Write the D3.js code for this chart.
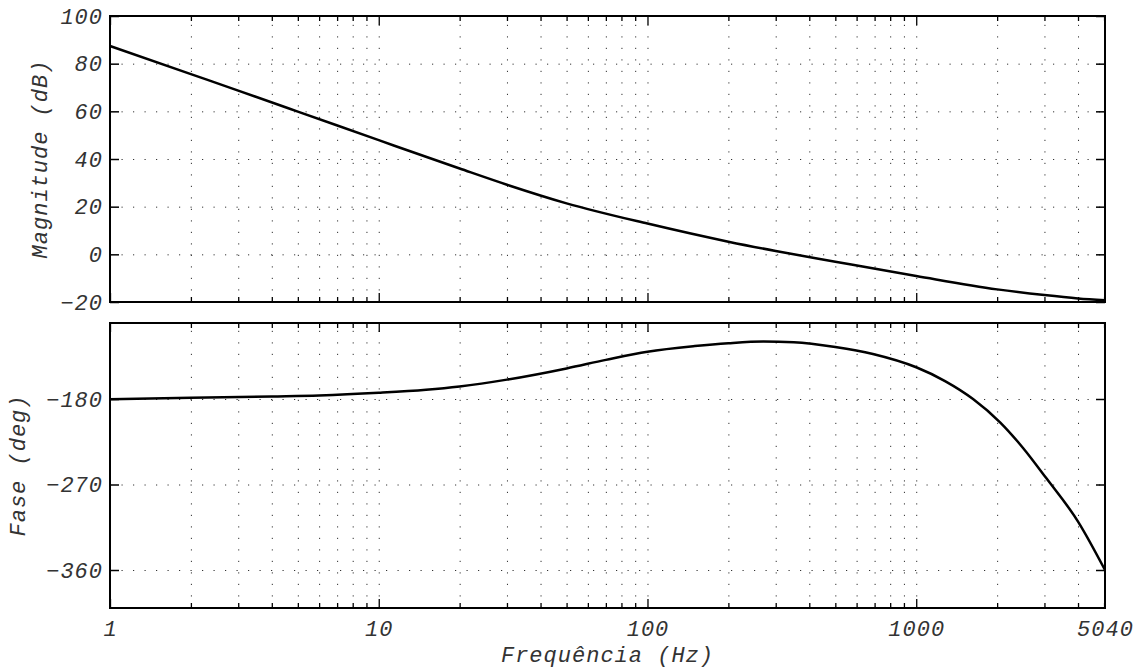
<!DOCTYPE html>
<html>
<head>
<meta charset="utf-8">
<script src="https://cdn.jsdelivr.net/npm/d3@7"></script>
<style>
  html, body { margin: 0; padding: 0; background: #fff; }
  svg text { font-family: "Liberation Mono", "DejaVu Sans Mono", monospace; font-style: italic; fill: #333; }
</style>
</head>
<body>
<div id="container"></div>
<script>
// values (freq in Hz)
const magFreq = [1, 2, 3, 5, 10, 20, 30, 50, 100, 200, 300, 500, 1000, 2000, 3000, 4000, 5040];
const magDb = [87.4, 75.6, 68.7, 59.9, 47.9, 36.0, 29.2, 21.4, 12.9, 5.3, 1.4, -3.1, -9.1, -14.7, -17.1, -18.5, -19.3];

const phFreq = [1, 2, 4, 6, 10, 15, 20, 30, 50, 70, 100, 150, 200, 270, 350, 500, 690, 1000, 1280, 1627, 2051, 2497, 3041, 4000, 5040];
const phDeg = [-180.3, -178.8, -177.3, -176.3, -173.5, -170.3, -166.8, -159.6, -147.8, -138.8, -130.2, -124.3, -121.3, -119.5, -120.2, -125.2, -132.6, -146.6, -161.1, -180, -204.5, -231.5, -263, -309, -360];

const xLabels = [1, 10, 100, 1000, 5040];
const magTicks = [-20, 0, 20, 40, 60, 80, 100];
const phTicks = [-360, -270, -180];

const W = 1145, H = 668;
const left = 110, right = 1105;
const top1 = 16, bot1 = 302, top2 = 323, bot2 = 608;

const svg = d3.select('#container').append('svg')
    .attr('width', W).attr('height', H);

const x = d3.scaleLog().domain([1, 5040]).range([left, right]);
const fmt = d3.format('d');   // uses the real minus sign

// decade and minor positions for grid / ticks
const majors = [1, 10, 100, 1000];
let minors = [];
majors.forEach(d => {
    for (let k = 2; k <= 9; k++) if (d * k <= 5040) minors.push(d * k);
});

function panel(y0, y1, yScale, yTicks, freq, vals) {
    const g = svg.append('g');
    const h = y1 - y0;

    // dotted grid
    g.append('g')
        .attr('transform', `translate(0,${y1})`)
        .call(d3.axisBottom(x).tickValues(majors.concat(minors)).tickSize(-h).tickFormat(''))
        .call(a => a.select('.domain').remove())
        .selectAll('line').attr('stroke', '#333').attr('stroke-dasharray', '1.2,10.3');
    g.append('g')
        .attr('transform', `translate(${left},0)`)
        .call(d3.axisLeft(yScale).tickValues(yTicks).tickSize(-(right - left)).tickFormat(''))
        .call(a => a.select('.domain').remove())
        .selectAll('line').attr('stroke', '#333').attr('stroke-dasharray', '1.2,10.3');

    // inward ticks, bottom and top
    [[y1, d3.axisBottom], [y0, d3.axisTop]].forEach(([yy, ax]) => {
        g.append('g').attr('transform', `translate(0,${yy})`)
            .call(ax(x).tickValues(minors).tickSize(-5).tickFormat(''))
            .call(a => a.select('.domain').remove())
            .selectAll('line').attr('stroke', '#000').attr('stroke-width', 1.3);
        g.append('g').attr('transform', `translate(0,${yy})`)
            .call(ax(x).tickValues(majors).tickSize(-9).tickFormat(''))
            .call(a => a.select('.domain').remove())
            .selectAll('line').attr('stroke', '#000').attr('stroke-width', 1.3);
    });

    // left axis with labels, right ticks
    g.append('g').attr('transform', `translate(${left},0)`)
        .call(d3.axisLeft(yScale).tickValues(yTicks).tickSize(-9).tickPadding(7).tickFormat(fmt))
        .call(a => a.select('.domain').remove())
        .call(a => a.selectAll('line').attr('stroke', '#000').attr('stroke-width', 1.5))
        .call(a => a.selectAll('text').attr('font-size', 22).attr('letter-spacing', 1)
            .attr('font-family', null).attr('fill', '#333'));
    g.append('g').attr('transform', `translate(${right},0)`)
        .call(d3.axisRight(yScale).tickValues(yTicks).tickSize(-9).tickFormat(''))
        .call(a => a.select('.domain').remove())
        .selectAll('line').attr('stroke', '#000').attr('stroke-width', 1.5);

    // frame
    g.append('rect')
        .attr('x', left).attr('y', y0)
        .attr('width', right - left).attr('height', h)
        .attr('fill', 'none').attr('stroke', '#000').attr('stroke-width', 2);

    // curve
    const line = d3.line()
        .x((d, i) => x(freq[i]))
        .y(d => yScale(d))
        .curve(d3.curveMonotoneX);
    g.append('path')
        .datum(vals)
        .attr('d', line)
        .attr('fill', 'none').attr('stroke', '#000').attr('stroke-width', 2.5);
}

const yMag = d3.scaleLinear().domain([-20, 100]).range([bot1, top1]);
const yPh = d3.scaleLinear().domain([-400, -100]).range([bot2, top2]);

panel(top1, bot1, yMag, magTicks, magFreq, magDb);
panel(top2, bot2, yPh, phTicks, phFreq, phDeg);

// x labels
svg.append('g').attr('transform', `translate(0,${bot2})`)
    .call(d3.axisBottom(x).tickValues(xLabels).tickSize(0).tickPadding(12).tickFormat(fmt))
    .call(a => a.select('.domain').remove())
    .selectAll('text').attr('font-size', 22).attr('letter-spacing', 1)
    .attr('font-family', null).attr('fill', '#333');

svg.append('text')
    .attr('x', (left + right) / 2).attr('y', 662)
    .attr('text-anchor', 'middle').attr('font-size', 22).attr('letter-spacing', 1)
    .text('Frequência (Hz)');

svg.append('text')
    .attr('transform', `translate(47,${(top1 + bot1) / 2}) rotate(-90)`)
    .attr('text-anchor', 'middle').attr('font-size', 22).attr('letter-spacing', 1)
    .text('Magnitude (dB)');

svg.append('text')
    .attr('transform', `translate(25,${(top2 + bot2) / 2}) rotate(-90)`)
    .attr('text-anchor', 'middle').attr('font-size', 22).attr('letter-spacing', 1)
    .text('Fase (deg)');
</script>
</body>
</html>
